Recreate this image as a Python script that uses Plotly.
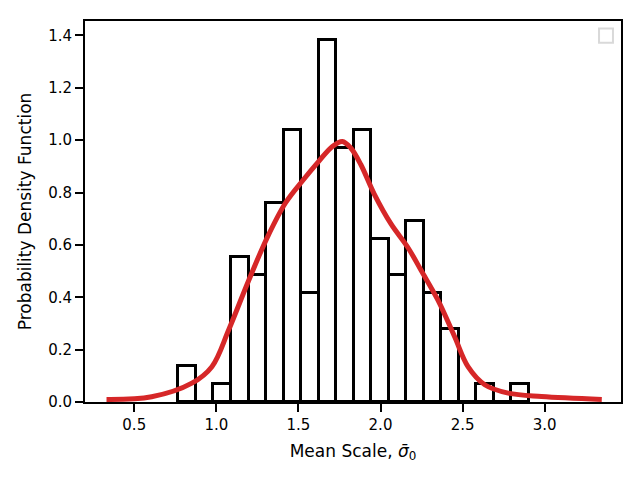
import plotly.graph_objects as go

# histogram (density)
bin_centers = [0.822, 0.929, 1.036, 1.143, 1.250, 1.356, 1.463, 1.570, 1.677, 1.784,
               1.890, 1.997, 2.104, 2.211, 2.317, 2.424, 2.531, 2.638, 2.745, 2.851]
bin_width = 0.1068
density = [0.138, 0.0, 0.069, 0.554, 0.484, 0.761, 1.038, 0.415, 1.384, 0.969,
           1.038, 0.623, 0.484, 0.692, 0.415, 0.277, 0.0, 0.069, 0.0, 0.069]

# kde curve
kde_x = [0.331, 0.606, 0.851, 0.973, 1.075, 1.197, 1.310, 1.422, 1.524, 1.625,
         1.707, 1.768, 1.819, 1.880, 1.962, 2.064, 2.166, 2.247, 2.350, 2.451,
         2.533, 2.635, 2.778, 2.981, 3.348]
kde_y = [0.010, 0.020, 0.072, 0.135, 0.275, 0.464, 0.628, 0.761, 0.844, 0.920,
         0.976, 0.995, 0.970, 0.907, 0.794, 0.680, 0.591, 0.503, 0.389, 0.250,
         0.135, 0.066, 0.034, 0.021, 0.010]

fig = go.Figure()

fig.add_trace(go.Bar(
    x=bin_centers, y=density, width=bin_width,
    marker=dict(color="white", line=dict(color="black", width=3)),
    showlegend=False,
))
fig.add_trace(go.Scatter(
    x=kde_x, y=kde_y, mode="lines",
    line=dict(color="#d62728", width=5, shape="spline", smoothing=1.0),
    showlegend=False,
))

axis_style = dict(
    showline=True, mirror=True, linecolor="black", linewidth=2,
    ticks="outside", ticklen=8, tickwidth=2, tickcolor="black",
    showgrid=False, zeroline=False,
    tickfont=dict(family="DejaVu Sans", size=15, color="black"),
)

# the page body adds an 8px offset, so margins are shifted to compensate
fig.update_layout(
    width=640, height=480,
    margin=dict(l=77, r=27, t=11, b=86),
    paper_bgcolor="white", plot_bgcolor="white",
    font=dict(family="DejaVu Sans", size=17, color="black"),
    bargap=0,
    xaxis=dict(
        range=[0.2, 3.465],
        tickvals=[0.5, 1.0, 1.5, 2.0, 2.5, 3.0], tickformat=".1f",
        title=dict(text="Mean Scale, <i>\u03c3\u0304</i><sub>0</sub>", standoff=12,
                   font=dict(size=17)),
        **axis_style,
    ),
    yaxis=dict(
        range=[0, 1.455],
        tickvals=[0.0, 0.2, 0.4, 0.6, 0.8, 1.0, 1.2, 1.4], tickformat=".1f",
        title=dict(text="Probability Density Function", standoff=12,
                   font=dict(size=17)),
        **axis_style,
    ),
    shapes=[dict(
        type="rect", xref="paper", yref="paper",
        x0=0.959, x1=0.985, y0=0.943, y1=0.980,
        line=dict(color="#d9d9d9", width=2), fillcolor="white",
    )],
)

fig.write_html("out.html")
